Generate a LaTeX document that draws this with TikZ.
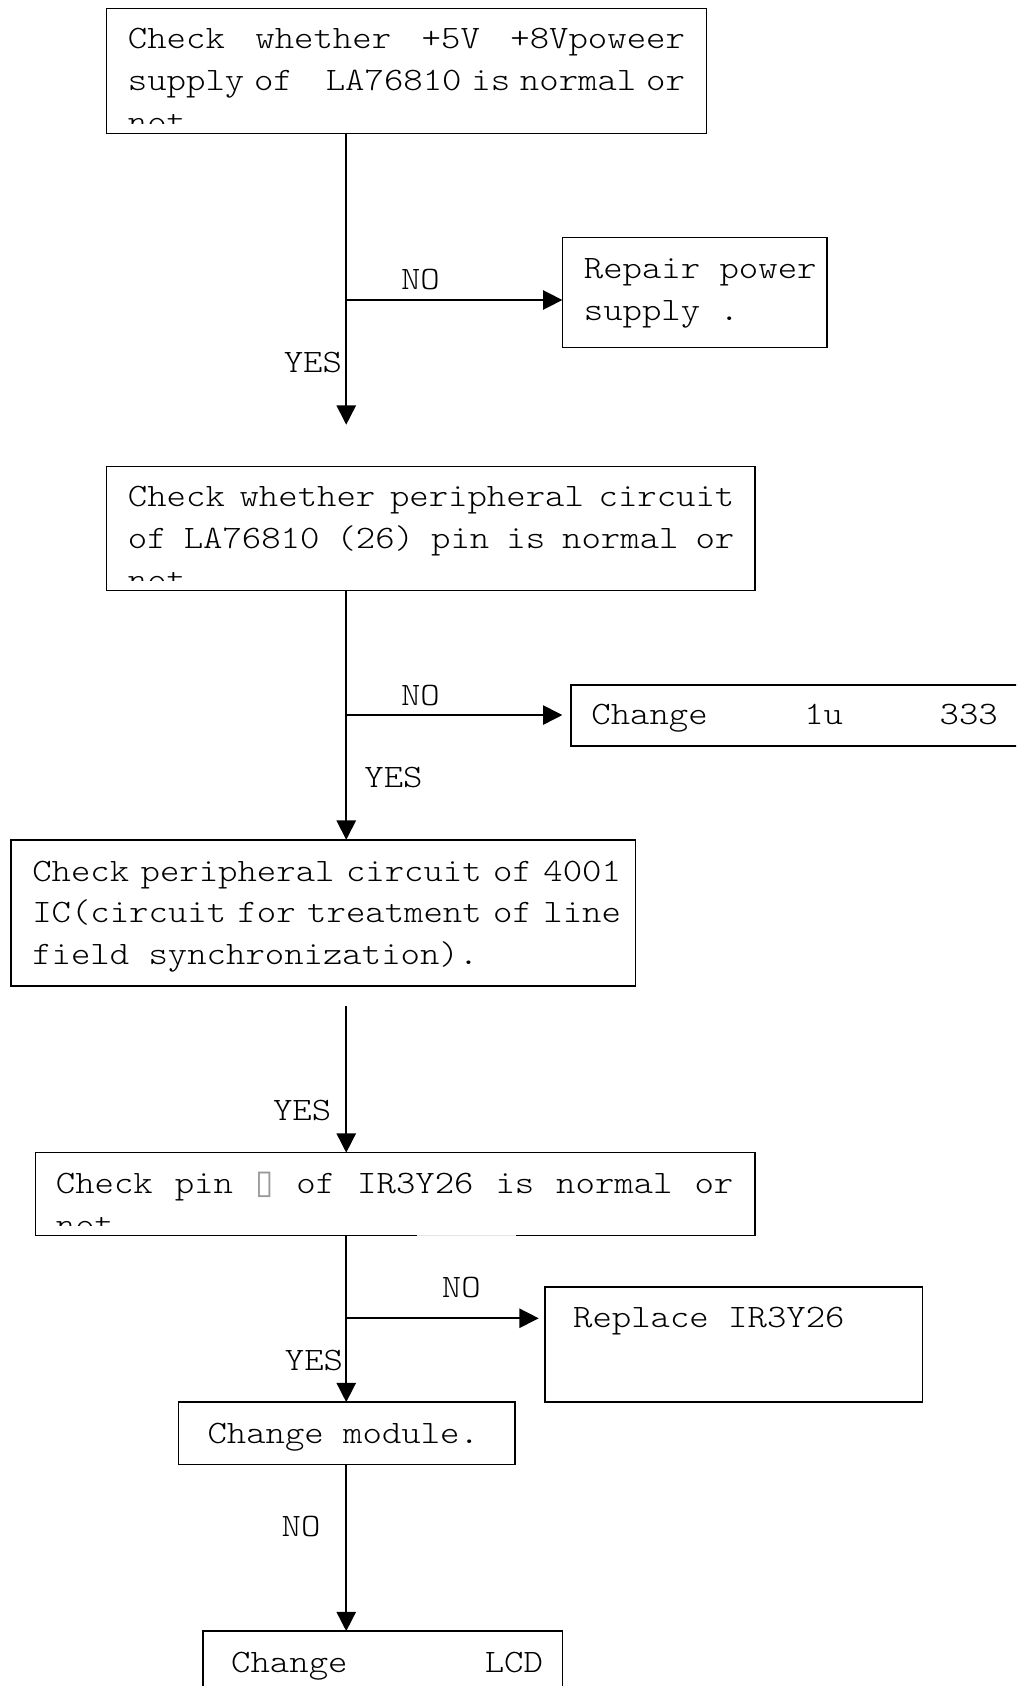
\documentclass[tikz,border=0pt]{standalone}
\usepackage{fontspec}
\newfontfamily\cour[FakeStretch=1.13]{lmmonolt10-regular.otf}
\newfontfamily\dvs{DejaVu Sans}
\usetikzlibrary{arrows.meta}
\newcommand{\jl}[2]{\makebox[#1][s]{\spaceskip=0.35em plus 1fil\relax #2}}
\begin{document}
\begin{tikzpicture}[x=1pt,y=-1pt,
  box/.style={draw, line width=1.5pt, inner sep=0pt, outer sep=0pt},
  txt/.style={inner sep=0pt, outer sep=0pt, anchor=base west, font=\cour\fontsize{30.4}{39}\selectfont},
  lbl/.style={inner sep=0pt, anchor=base, font=\cour\fontsize{30.4}{39}\selectfont},
  arr/.style={line width=1.5pt, -{Triangle[length=18pt,width=18pt]}}]
\useasboundingbox (0,0) rectangle (945,1568);
\clip (0,0) rectangle (945,1568);
% boxes
\node[box, minimum width=558pt, minimum height=116pt] (b1) at (378,66) {};
\node[box, minimum width=246pt, minimum height=102pt] (b2) at (646,272) {};
\node[box, minimum width=603pt, minimum height=115pt] (b3) at (400.5,491.5) {};
\node[box, minimum width=434pt, minimum height=57pt] (b5) at (748,665.5) {};
\node[box, minimum width=581pt, minimum height=136pt] (b4) at (300.5,849) {};
\node[box, minimum width=669pt, minimum height=77pt] (b6) at (367.5,1110.5) {};
\node[box, minimum width=351pt, minimum height=107pt] (b8) at (682.5,1250.5) {};
\node[box, minimum width=313pt, minimum height=58pt] (b7) at (322.5,1333) {};
\node[box, minimum width=334pt, minimum height=73pt] (b9) at (356,1553.5) {};
\draw[gray!20, line width=1.6pt] (388,1149) -- (480,1149);
% texts
\node[txt] (t1a) at (119,45) {\jl{518pt}{Check whether +5V +8Vpoweer}};
\node[txt] (t1b) at (119,84) {\makebox[518pt][s]{\spaceskip=0.3em\relax supply of\hfill LA76810 is normal or}};
\begin{scope}
\clip (99,8) rectangle (657,115);
\node[txt] (t1c) at (119,123) {not};
\end{scope}
\node[txt] (t2a) at (543,259) {Repair power};
\node[txt] (t2b) at (543,298) {supply .};
\node[txt] (t3a) at (119,471) {\jl{564pt}{Check whether peripheral circuit}};
\node[txt] (t3b) at (119,510) {\jl{564pt}{of LA76810 (26) pin is normal or}};
\begin{scope}
\clip (99,434) rectangle (702,540);
\node[txt] (t3c) at (119,549) {not};
\end{scope}
\node[txt] (t5) at (550,674) {\makebox[378pt][s]{Change\hfill 1u\hfill 333}};
\node[txt] (t4a) at (30,820) {\jl{542pt}{Check peripheral circuit of 4001}};
\node[txt] (t4b) at (30,858) {\jl{542pt}{IC(circuit for treatment of line}};
\node[txt] (t4c) at (30,897) {field synchronization).};
\node[txt] (t6a) at (52,1110) {\jl{630pt}{Check pin \makebox[0.6em]{\dvs\color{gray!80}\fontsize{31}{36}\selectfont ▯} of IR3Y26 is normal or}};
\begin{scope}
\clip (33,1072) rectangle (702,1140);
\node[txt] (t6b) at (52,1149) {not};
\end{scope}
\node[txt] (t8) at (533,1235) {Replace IR3Y26};
\node[txt] (t7) at (193,1342) {Change module.};
\node[txt] (t9) at (215,1555) {\makebox[290pt][s]{Change\hfill LCD}};
% labels
\node[lbl] (no1) at (391,269) {NO};
\node[lbl] (yes1) at (291,346) {YES};
\node[lbl] (no2) at (391,656) {NO};
\node[lbl] (yes2) at (366,732) {YES};
\node[lbl] (yes3) at (281,1042) {YES};
\node[lbl] (no3) at (429,1207) {NO};
\node[lbl] (yes4) at (292,1275) {YES};
\node[lbl] (no4) at (280,1429) {NO};
% connectors
\coordinate (c1) at (322,395);
\coordinate (j1) at (322,279);
\coordinate (j2) at (322,665);
\coordinate (s3) at (322,936);
\coordinate (j4) at (322,1226);
\draw[arr] (b1.south -| c1) -- (c1);
\draw[arr] (j1) -- (j1 -| b2.west);
\draw[arr] (b3.south -| c1) -- (b4.north -| c1);
\draw[arr, shorten >=8pt] (j2) -- (j2 -| b5.west);
\draw[arr] (s3) -- (b6.north -| s3);
\draw[arr] (b6.south -| j4) -- (b7.north -| j4);
\draw[arr, shorten >=6pt] (j4) -- (j4 -| b8.west);
\draw[arr] (b7.south -| j4) -- (b9.north -| j4);
\end{tikzpicture}
\end{document}
